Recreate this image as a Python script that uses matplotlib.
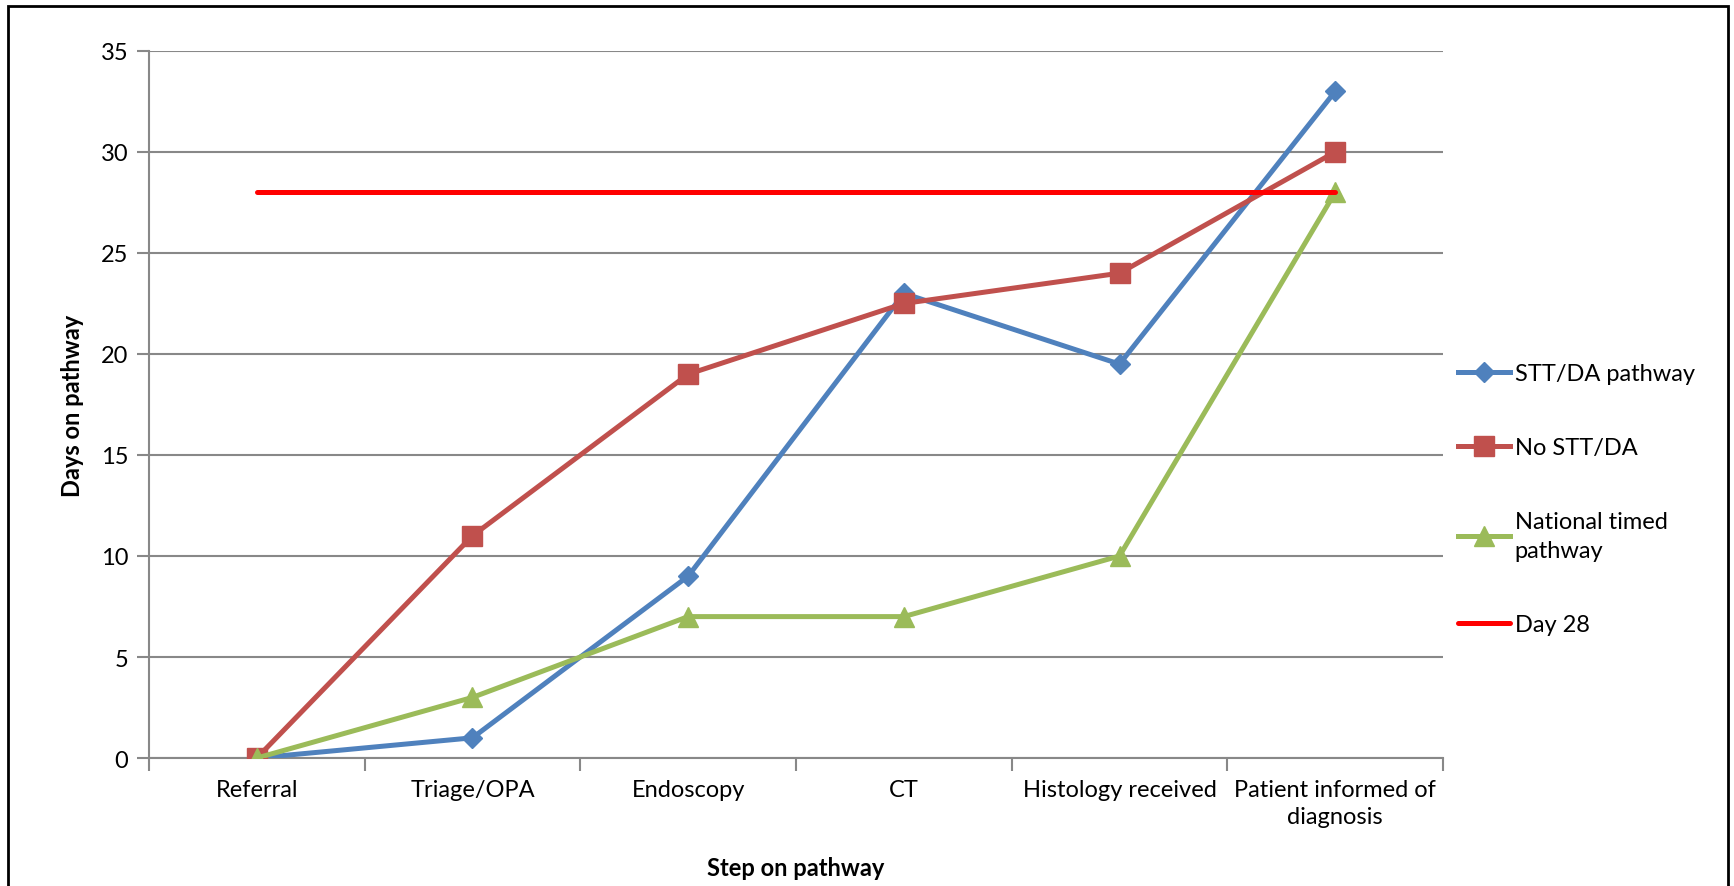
import matplotlib.pyplot as plt
from matplotlib.patches import Rectangle
from matplotlib.ticker import FixedLocator, NullFormatter

plt.rcParams['font.family'] = ['Lato', 'DejaVu Sans']

steps = ['Referral', 'Triage/OPA', 'Endoscopy', 'CT', 'Histology received',
         'Patient informed of\ndiagnosis']
stt_da = [0, 1, 9, 23, 19.5, 33]
no_stt_da = [0, 11, 19, 22.5, 24, 30]
national = [0, 3, 7, 7, 10, 28]
day28 = [28, 28, 28, 28, 28, 28]

x = list(range(len(steps)))
fs = 17

fig = plt.figure(figsize=(17.34, 8.87), dpi=100)
ax = fig.add_axes([0.0859, 0.1443, 0.7463, 0.7971])

ax.plot(x, stt_da, color='#4F81BD', lw=3.6, marker='D', ms=10.5,
        label='STT/DA pathway', zorder=3)
ax.plot(x, no_stt_da, color='#C0504D', lw=3.6, marker='s', ms=14,
        label='No STT/DA', zorder=3)
ax.plot(x, national, color='#9BBB59', lw=3.6, marker='^', ms=15,
        label='National timed\npathway', zorder=3)
ax.plot(x, day28, color='#FF0000', lw=3.6, solid_capstyle='round',
        label='Day 28', zorder=4)

ax.set_xlim(-0.5, len(steps) - 0.5)
ax.set_ylim(0, 35)
ax.set_yticks(range(0, 36, 5))
ax.set_xticks(x)
ax.set_xticklabels(steps, linespacing=1.35)
ax.xaxis.set_minor_locator(FixedLocator([i - 0.5 for i in range(len(steps) + 1)]))
ax.xaxis.set_minor_formatter(NullFormatter())

ax.grid(axis='y', color='#888888', lw=1.5)
ax.set_axisbelow(True)
for s in ['top', 'right']:
    ax.spines[s].set_visible(False)
for s in ['left', 'bottom']:
    ax.spines[s].set_color('#888888')
    ax.spines[s].set_linewidth(1.5)

ax.tick_params(axis='y', length=9, width=1.5, color='#888888', labelsize=fs, pad=6)
ax.tick_params(axis='x', which='major', length=0, labelsize=fs, pad=15)
ax.tick_params(axis='x', which='minor', length=9, width=1.5, color='#888888')

ax.set_xlabel('Step on pathway', fontsize=fs, fontweight='bold')
ax.set_ylabel('Days on pathway', fontsize=fs, fontweight='bold')
ax.xaxis.set_label_coords(0.5, -0.138)
ax.yaxis.set_label_coords(-0.05, 0.5)

leg = fig.legend(loc='center left', bbox_to_anchor=(1458 / 1734, 1 - 500 / 887),
                 frameon=False, fontsize=fs, handlelength=2.2, handletextpad=0.2,
                 labelspacing=2.25, borderpad=0, borderaxespad=0)
for t in leg.get_texts():
    t.set_linespacing(1.45)

# border round the whole chart
fig.patches.append(Rectangle((8 / 1734, -0.02), 1720 / 1734, 1.02 - 7 / 887,
                             transform=fig.transFigure, fill=False,
                             edgecolor='black', lw=2))

fig.savefig('out.png', dpi=100)
